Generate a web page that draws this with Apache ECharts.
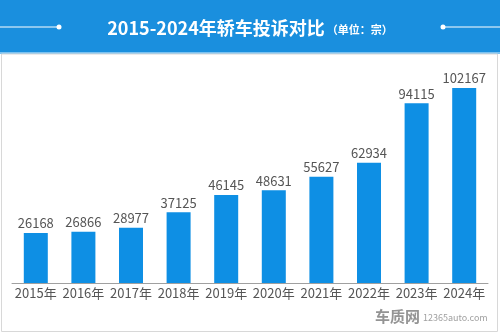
<!DOCTYPE html>
<html><head><meta charset="utf-8">
<script src="https://cdn.jsdelivr.net/npm/echarts@6/dist/echarts.min.js"></script>
<style>html,body{margin:0;padding:0;background:#fff}#c{width:500px;height:334px}</style>
</head><body><div id="c"></div>
<script>
const categories = ['2015年','2016年','2017年','2018年','2019年','2020年','2021年','2022年','2023年','2024年'];
const complaints = [26168,26866,28977,37125,46145,48631,55627,62934,94115,102167];
const titleMain = '2015-2024年轿车投诉对比';
const titleUnit = '（单位：宗）';

const chart = echarts.init(document.getElementById('c'), null, {renderer:'canvas'});
const font = '"Noto Sans CJK SC","Noto Sans",sans-serif';
chart.setOption({
  backgroundColor:'#fff',
  animation:false,
  title:{
    text:'{a|'+titleMain+'}{b|'+titleUnit+'}',
    left:'center', top:14,
    textStyle:{rich:{
      a:{color:'#fff',fontSize:18,fontWeight:'bold',fontFamily:font},
      b:{color:'#fff',fontSize:11,fontFamily:font,padding:[3,0,0,2]}
    }}
  },
  graphic:[
    {type:'rect',z:-10,shape:{x:0,y:0,width:500,height:52},style:{fill:'#1a8fde'}},
    {type:'rect',z:-10,shape:{x:0,y:52,width:500,height:2},style:{fill:'#7cc2f0'}},
    {type:'rect',z:-10,shape:{x:1.5,y:54,width:496,height:277.5},style:{fill:'#fff',stroke:'#d8d8d8',lineWidth:1}},
    {type:'line',shape:{x1:0,y1:27,x2:58,y2:27},style:{stroke:'#fff',lineWidth:1}},
    {type:'circle',shape:{cx:59,cy:27,r:2.5},style:{fill:'#fff'}},
    {type:'line',shape:{x1:443,y1:27,x2:500,y2:27},style:{stroke:'#fff',lineWidth:1}},
    {type:'circle',shape:{cx:443,cy:27,r:2.5},style:{fill:'#fff'}},
    {type:'text',x:375,y:309,style:{text:'车质网',fill:'#949494',font:'bold 15px '+font}},
    {type:'text',x:423,y:313,style:{text:'12365auto.com',fill:'#a0a0a0',font:'9px '+font}}
  ],
  grid:{left:12,right:12,top:73,bottom:51},
  xAxis:{
    type:'category',data:categories,
    axisLine:{lineStyle:{color:'#a0a0a0'}},
    axisTick:{show:false},
    axisLabel:{color:'#555',fontSize:13,fontFamily:font,margin:4,interval:0}
  },
  yAxis:{type:'value',min:0,max:110000,show:false,splitLine:{show:false}},
  series:[{
    type:'bar',data:complaints,barWidth:24,
    itemStyle:{color:'#0e8fe4'},
    label:{show:true,position:'top',distance:3,color:'#555',fontSize:13,fontFamily:font}
  }]
});
</script></body></html>
